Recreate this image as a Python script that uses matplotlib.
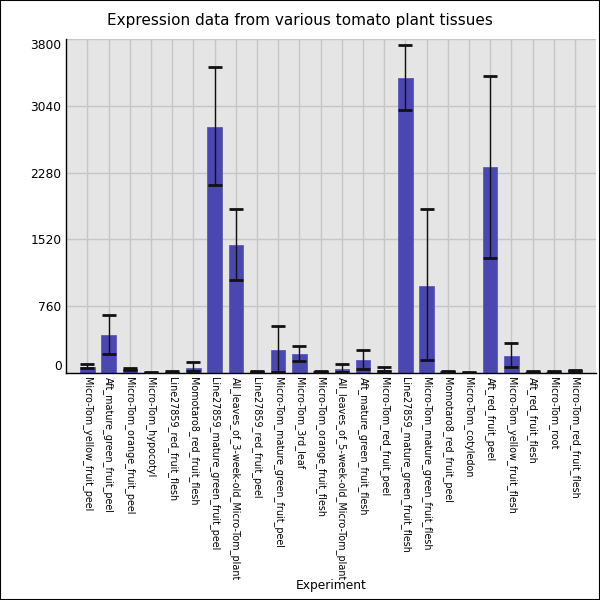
import numpy as np
import matplotlib
matplotlib.use('Agg')
import matplotlib.pyplot as plt
from matplotlib.patches import Rectangle

tissues = ['Micro-Tom_yellow_fruit_peel', 'Aft_mature_green_fruit_peel',
           'Micro-Tom_orange_fruit_peel', 'Micro-Tom_hypocotyl',
           'Line27859_red_fruit_flesh', 'Momotaro8_red_fruit_flesh',
           'Line27859_mature_green_fruit_peel',
           'All_leaves_of_3-week-old_Micro-Tom_plant',
           'Line27859_red_fruit_peel', 'Micro-Tom_mature_green_fruit_peel',
           'Micro-Tom_3rd_leaf', 'Micro-Tom_orange_fruit_flesh',
           'All_leaves_of_5-week-old_Micro-Tom_plant',
           'Aft_mature_green_fruit_flesh', 'Micro-Tom_red_fruit_peel',
           'Line27859_mature_green_fruit_flesh',
           'Micro-Tom_mature_green_fruit_flesh', 'Momotaro8_red_fruit_peel',
           'Micro-Tom_cotyledon', 'Aft_red_fruit_peel',
           'Micro-Tom_yellow_fruit_flesh', 'Aft_red_fruit_flesh',
           'Micro-Tom_root', 'Micro-Tom_red_fruit_flesh']

expr = [68, 433, 45, 10, 12, 53, 2794, 1454, 20, 262, 216, 20,
        45, 148, 34, 3355, 995, 20, 10, 2342, 194, 15, 15, 30]
err_lo = [11, 217, 10, 8, 8, 34, 657, 399, 8, 247, 76, 8,
          30, 106, 15, 364, 843, 8, 8, 1032, 129, 8, 8, 8]
err_hi = [38, 224, 12, 4, 6, 68, 686, 417, 7, 270, 91, 7,
          61, 114, 31, 379, 869, 7, 6, 1039, 144, 8, 8, 8]

yticks = [0, 760, 1520, 2280, 3040, 3800]

fig = plt.figure(figsize=(6, 6), dpi=100)
ax = fig.add_axes([0.1095, 0.3783, 0.884, 0.5567])
ax.set_facecolor('#e5e5e5')

x = np.arange(len(tissues))
ax.bar(x, expr, width=0.68, color='#4a47b0', edgecolor='#5c5ab8', lw=0.6, zorder=2)
ax.errorbar(x, expr, yerr=[err_lo, err_hi], fmt='none', ecolor='#111111',
            elinewidth=1.0, capsize=4.7, capthick=2, zorder=3)

ax.set_xlim(-1.02, 24.0)
ax.set_ylim(0, 3800)
ax.set_yticks(yticks)
ax.set_yticklabels([str(v) for v in yticks], fontsize=8.8)
ax.set_xticks(x)
ax.set_xticklabels(tissues, rotation=-90, fontsize=6.9, ha='center', va='top')
ax.tick_params(axis='both', length=0, pad=3)
ax.tick_params(axis='x', pad=3)
labs = ax.get_yticklabels()
labs[0].set_va('bottom')
labs[-1].set_va('top')

ax.grid(True, color='#c6c6c6', lw=1, zorder=0)
ax.set_axisbelow(True)
for s in ['top', 'right']:
    ax.spines[s].set_visible(False)
ax.spines['left'].set_linewidth(1)
ax.spines['bottom'].set_linewidth(1)

ax.set_ylabel('Expression_(Fluor._Intensity)', fontsize=8.8)
ax.yaxis.set_label_coords(-0.133, 0.5)
ax.set_xlabel('Experiment', fontsize=8.8)
ax.xaxis.set_label_coords(0.5, -0.617)
fig.text(0.5, 0.965, 'Expression data from various tomato plant tissues',
         ha='center', va='center', fontsize=11)

fig.add_artist(Rectangle((0, 0), 1, 1, transform=fig.transFigure,
                         fill=False, edgecolor='black', lw=1.5))

fig.savefig('out.png', dpi=100)
